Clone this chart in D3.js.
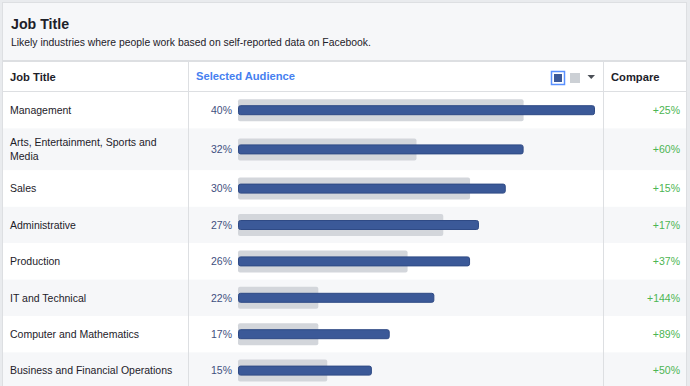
<!DOCTYPE html>
<html lang="en">

<head>
  <meta charset="UTF-8">
  <title>Job Title</title>
  <script src="https://d3js.org/d3.v7.min.js"></script>
  <style>
    body { margin: 0; background: #fff; }
    text { font-family: "Liberation Sans", Arial, Helvetica, sans-serif; }
  </style>
</head>

<body>

  <script>
    // data
    const jobTitles = [
      'Management',
      'Arts, Entertainment, Sports and Media',
      'Sales',
      'Administrative',
      'Production',
      'IT and Technical',
      'Computer and Mathematics',
      'Business and Financial Operations'
    ];
    const selectedAudience = [40, 32, 30, 27, 26, 22, 17, 15];
    const benchmark = [32, 20, 26, 23, 19, 9, 9, 10];
    const compare = ['+25%', '+60%', '+15%', '+17%', '+37%', '+144%', '+89%', '+50%'];

    const width = 690;
    const height = 386;
    const fs = 10.5;

    const svg = d3.select('body')
      .append('svg')
      .attr('width', width)
      .attr('height', height);

    // outer frame
    svg.append('rect')
      .attr('width', width).attr('height', height)
      .attr('fill', '#e9ebee');
    svg.append('rect')
      .attr('x', 2.5).attr('y', 2.5)
      .attr('width', 684).attr('height', height)
      .attr('fill', '#fff')
      .attr('stroke', '#dddfe2');

    // title block
    svg.append('rect')
      .attr('x', 3).attr('y', 3)
      .attr('width', 683).attr('height', 57)
      .attr('fill', '#f6f7f9');
    svg.append('text')
      .attr('x', 11).attr('y', 29)
      .attr('font-size', 14.2).attr('font-weight', 'bold')
      .attr('fill', '#1d2129')
      .text('Job Title');
    svg.append('text')
      .attr('x', 11).attr('y', 45.5)
      .attr('font-size', 10.4)
      .attr('fill', '#1d2129')
      .text('Likely industries where people work based on self-reported data on Facebook.');
    svg.append('rect')
      .attr('x', 3).attr('y', 60)
      .attr('width', 683).attr('height', 2)
      .attr('fill', '#dddfe2');

    // column header
    const headY = 80.5;
    svg.append('text')
      .attr('x', 10).attr('y', headY)
      .attr('font-size', 11.2).attr('font-weight', 'bold')
      .attr('fill', '#1d2129')
      .text('Job Title');
    svg.append('text')
      .attr('x', 196).attr('y', headY - 1)
      .attr('font-size', 11.2).attr('font-weight', 'bold')
      .attr('fill', '#4680f0')
      .text('Selected Audience');
    svg.append('text')
      .attr('x', 611).attr('y', headY)
      .attr('font-size', 11.2).attr('font-weight', 'bold')
      .attr('fill', '#1d2129')
      .text('Compare');

    // legend icons
    svg.append('rect')
      .attr('x', 551.5).attr('y', 71.5)
      .attr('width', 13).attr('height', 13)
      .attr('fill', '#fff').attr('stroke', '#5890ff').attr('stroke-width', 1.5);
    svg.append('rect')
      .attr('x', 554).attr('y', 74)
      .attr('width', 8).attr('height', 8)
      .attr('fill', '#3b5998');
    svg.append('rect')
      .attr('x', 570).attr('y', 73)
      .attr('width', 10).attr('height', 10)
      .attr('fill', '#ccd0d5');
    svg.append('path')
      .attr('d', 'M587.5,75 L595,75 L591.25,79 Z')
      .attr('fill', '#4b4f56');

    svg.append('rect')
      .attr('x', 3).attr('y', 91)
      .attr('width', 683).attr('height', 1)
      .attr('fill', '#dddfe2');

    // word wrap for row labels
    const measure = svg.append('text').attr('font-size', fs).attr('visibility', 'hidden');
    function wrap(str, maxW) {
      const words = str.split(' ');
      const lines = [];
      let line = '';
      words.forEach(w => {
        const test = line ? line + ' ' + w : w;
        measure.text(test);
        if (measure.node().getComputedTextLength() > maxW && line) {
          lines.push(line);
          line = w;
        } else {
          line = test;
        }
      });
      lines.push(line);
      return lines;
    }

    const data = jobTitles.map((t, i) => ({
      title: t,
      lines: wrap(t, 170),
      value: selectedAudience[i],
      bench: benchmark[i],
      compare: compare[i]
    }));
    measure.remove();

    let y0 = 92;
    data.forEach(d => {
      d.h = d.lines.length > 1 ? 42 : 36.4;
      d.y = y0;
      y0 += d.h;
    });

    const x = d3.scaleLinear()
      .domain([0, 40])
      .range([238, 595]);

    const rows = svg.selectAll('g.row')
      .data(data)
      .enter()
      .append('g')
      .attr('class', 'row')
      .attr('transform', d => `translate(0,${d.y})`);

    rows.append('rect')
      .attr('x', 3).attr('width', 683)
      .attr('height', d => d.h)
      .attr('fill', (d, i) => i % 2 ? '#f6f7f9' : '#fff');

    rows.append('text')
      .attr('font-size', fs)
      .attr('fill', '#1d2129')
      .selectAll('tspan')
      .data(d => d.lines.map((l, k) => ({ l, k, n: d.lines.length, h: d.h })))
      .enter()
      .append('tspan')
      .attr('x', 10)
      .attr('y', t => t.h / 2 + 3.8 + (t.k - (t.n - 1) / 2) * 13.4)
      .text(t => t.l);

    rows.append('text')
      .attr('x', 232)
      .attr('y', d => d.h / 2 + 3.8)
      .attr('text-anchor', 'end')
      .attr('font-size', fs)
      .attr('fill', '#3f5080')
      .text(d => d.value + '%');

    rows.append('rect')
      .attr('x', x(0))
      .attr('y', d => d.h / 2 - 11)
      .attr('width', d => x(d.bench) - x(0))
      .attr('height', 22)
      .attr('rx', 2)
      .attr('fill', '#d3d6db');

    rows.append('rect')
      .attr('x', x(0) + 0.5)
      .attr('y', d => d.h / 2 - 4.5)
      .attr('width', d => x(d.value) - x(0) - 1)
      .attr('height', 9)
      .attr('rx', 2)
      .attr('fill', '#3b5998')
      .attr('stroke', '#2f4a85')
      .attr('stroke-width', 1);

    rows.append('text')
      .attr('x', 680)
      .attr('y', d => d.h / 2 + 3.8)
      .attr('text-anchor', 'end')
      .attr('font-size', fs)
      .attr('fill', '#4cb552')
      .text(d => d.compare);

    // column dividers
    [188, 603].forEach(vx => {
      svg.append('rect')
        .attr('x', vx).attr('y', 62)
        .attr('width', 1).attr('height', height - 62)
        .attr('fill', '#dddfe2');
    });
  </script>

</body>

</html>
